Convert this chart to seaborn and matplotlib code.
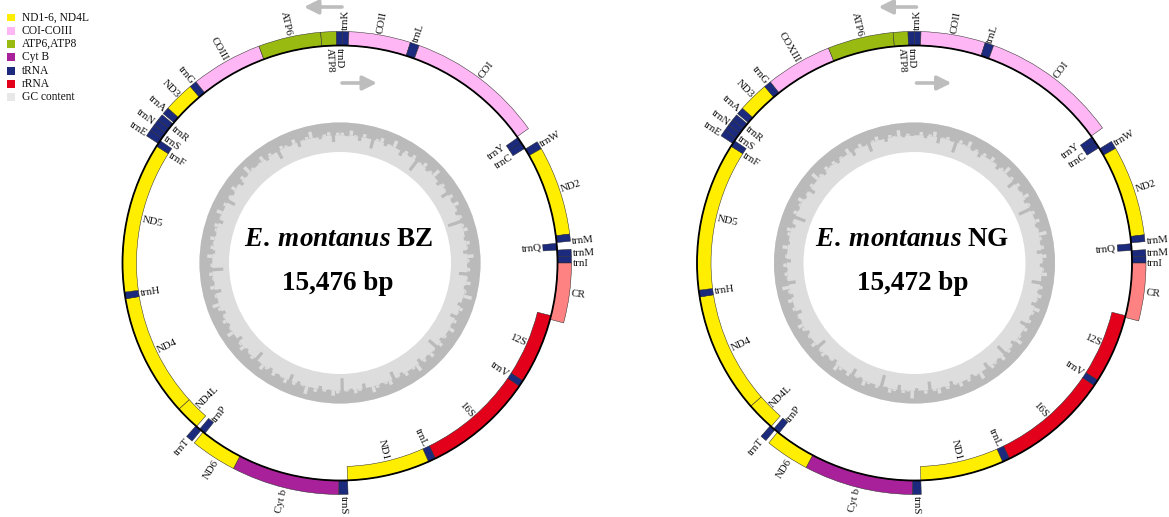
import numpy as np
import matplotlib
matplotlib.use("Agg")
import matplotlib.pyplot as plt
from matplotlib.patches import Wedge, Circle, Rectangle
import seaborn as sns

# ---------------------------------------------------------------- data
GENOME_LEN_BZ = 15476
GENOME_LEN_NG = 15472

gene_names_bz = ["trnK", "COII", "trnL", "COI", "trnY", "trnC", "trnW", "ND2",
                 "trnM", "trnQ", "trnM", "trnI", "CR", "12S", "trnV", "16S",
                 "trnL", "ND1", "trnS", "Cyt b", "ND6", "trnP", "trnT", "ND4L",
                 "ND4", "trnH", "ND5", "trnF", "trnE", "trnS", "trnN", "trnR",
                 "trnA", "ND3", "trnG", "COIII", "ATP6", "ATP8", "trnD"]
gene_names_ng = gene_names_bz[:35] + ["COXIII"] + gene_names_bz[36:]

# '+' drawn outside the ring, '-' drawn inside
gene_strand = ["+", "+", "+", "+", "-", "-", "+", "+",
               "+", "-", "+", "+", "+", "-", "-", "-",
               "-", "-", "+", "+", "+", "-", "+", "-",
               "-", "-", "-", "-", "+", "+", "+", "+",
               "+", "+", "+", "+", "+", "+", "+"]
gene_class = ["trn", "cox", "trn", "cox", "trn", "trn", "trn", "nad",
              "trn", "trn", "trn", "trn", "cr", "rrn", "trn", "rrn",
              "trn", "nad", "trn", "cob", "nad", "trn", "trn", "nad",
              "nad", "trn", "nad", "trn", "trn", "trn", "trn", "trn",
              "trn", "nad", "trn", "cox", "atp", "atp", "trn"]

gene_start_bz = [30, 95, 761, 860, 2356, 2425, 2511, 2597,
                 3560, 3646, 3723, 3796, 3869, 4471, 5279, 5352,
                 6620, 6706, 7652, 7751, 8916, 9389, 9445, 9513,
                 9793, 11199, 11276, 13004, 13039, 13112, 13181, 13249,
                 13335, 13413, 13744, 13822, 14595, 15270, 15438]
gene_end_bz = [95, 761, 860, 2343, 2433, 2502, 2597, 3560,
               3637, 3723, 3796, 3869, 4514, 5279, 5352, 6620,
               6706, 7652, 7751, 8916, 9415, 9466, 9522, 9793,
               11199, 11276, 13004, 13078, 13112, 13181, 13249, 13318,
               13413, 13744, 13822, 14595, 15270, 15438, 30]

gene_start_ng = [0, 69, 765, 860, 2347, 2416, 2506, 2592,
                 3567, 3649, 3726, 3795, 3868, 4470, 5270, 5343,
                 6623, 6709, 7664, 7759, 8936, 9392, 9452, 9509,
                 9836, 11218, 11295, 13000, 13036, 13108, 13177, 13245,
                 13330, 13408, 13739, 13817, 14535, 15244, 15403]
gene_end_ng = [69, 765, 860, 2334, 2424, 2493, 2592, 3567,
               3640, 3726, 3795, 3868, 4491, 5270, 5343, 6623,
               6709, 7664, 7759, 8936, 9412, 9469, 9521, 9836,
               11218, 11295, 13000, 13074, 13108, 13177, 13245, 13314,
               13408, 13739, 13817, 14535, 15244, 15403, 15472]

# GC content (%) in 2-degree windows, clockwise from the top
gc_bz = [27, 31, 24, 29, 35, 26, 30, 41, 28, 25, 33, 29, 22, 30, 36, 27, 31, 26, 44, 29,
         25, 32, 28, 21, 30, 34, 27, 29, 38, 26, 31, 24, 29, 33, 27, 46, 28, 25, 30, 32,
         26, 29, 35, 23, 28, 31, 27, 40, 29, 25, 32, 28, 20, 30, 34, 26, 29, 37, 27, 31,
         24, 30, 28, 33, 26, 42, 29, 25, 31, 27, 35, 22, 28, 30, 26, 33, 29, 39, 25, 28,
         31, 27, 23, 30, 36, 28, 26, 32, 29, 45, 27, 24, 31, 28, 34, 26, 30, 21, 29, 33,
         27, 38, 25, 29, 31, 26, 33, 28, 24, 30, 41, 27, 29, 32, 25, 28, 36, 30, 23, 29,
         32, 26, 29, 34, 27, 22, 30, 28, 37, 25, 31, 29, 26, 43, 28, 30, 24, 33, 27, 29,
         25, 31, 28, 26, 35, 29, 23, 30, 27, 39, 28, 32, 25, 29, 34, 26, 31, 21, 28, 30,
         29, 24, 33, 27, 30, 40, 26, 28, 31, 25, 36, 29, 27, 22, 30, 33, 28, 26, 38, 27]
gc_ng = [30, 26, 33, 28, 24, 37, 29, 27, 31, 43, 26, 29, 23, 32, 28, 35, 27, 30, 25, 29,
         34, 28, 22, 30, 27, 39, 26, 31, 29, 24, 33, 28, 45, 27, 30, 25, 32, 29, 21, 28,
         31, 27, 36, 25, 29, 33, 28, 24, 30, 41, 27, 32, 26, 29, 35, 23, 28, 31, 27, 38,
         26, 30, 28, 23, 34, 29, 27, 42, 25, 31, 28, 26, 37, 30, 22, 29, 33, 27, 30, 25,
         29, 35, 27, 31, 24, 28, 40, 26, 30, 33, 21, 29, 27, 36, 28, 25, 31, 44, 27, 30,
         28, 24, 32, 29, 38, 26, 30, 27, 23, 34, 29, 31, 26, 28, 41, 25, 30, 28, 33, 27,
         24, 31, 29, 36, 27, 30, 25, 33, 28, 22, 39, 29, 27, 31, 26, 35, 28, 30, 24, 32,
         30, 27, 25, 34, 29, 43, 26, 31, 28, 24, 32, 29, 37, 27, 30, 21, 28, 33, 26, 29,
         27, 33, 28, 30, 24, 36, 29, 26, 31, 40, 28, 25, 30, 34, 27, 29, 23, 32, 28, 31]

legend_labels = ["ND1-6, ND4L", "COI-COIII", "ATP6,ATP8", "Cyt B", "tRNA", "rRNA", "GC content"]
legend_classes = ["nad", "cox", "atp", "cob", "trn", "rrn", "gc"]

# ---------------------------------------------------------------- style
sns.set_theme(style="white")
plt.rcParams["font.family"] = ["Liberation Serif", "DejaVu Serif"]
plt.rcParams["mathtext.fontset"] = "custom"
plt.rcParams["mathtext.it"] = "Liberation Serif:italic:bold"
plt.rcParams["mathtext.rm"] = "Liberation Serif:bold"

class_colors = dict(zip(
    ["nad", "cox", "atp", "cob", "trn", "rrn", "cr", "gc"],
    sns.color_palette(["#FFEE00", "#FFB6F4", "#99BB11", "#A8219A",
                       "#1B2A7C", "#E2001A", "#FF8282", "#E6E6E6"])))
GC_DARK, GC_LIGHT = "#BABABA", "#DDDDDD"

W, H = 1169, 517
fig = plt.figure(figsize=(W / 100, H / 100), dpi=100)
ax = fig.add_axes([0, 0, 1, 1])
ax.set_xlim(0, W)
ax.set_ylim(0, H)
ax.axis("off")

RING_R = 217.5     # backbone circle
THICK = 14.0       # gene block thickness
LABEL_GAP = 1.3
GC_OUT, GC_IN = 140.5, 111.0
GC_MIN, GC_MAX = 15.0, 50.0   # radial scale of the GC track
GC_BASELINE = 30.0            # level of the solid outer band

LABEL_INSIDE = {29, 31, 37, 38}          # outer genes whose labels sit inside
LABEL_SHIFT = {4: -1.1, 5: 0.9, 8: 0.9, 10: 0.25, 11: 1.05, 20: -1.2,
               21: -0.8, 27: -1.05, 28: -0.75, 29: -0.4, 30: -0.6, 31: -0.1}


def pos(cx, cy, r, theta):
    t = np.deg2rad(theta)
    return cx + r * np.sin(t), cy + r * np.cos(t)


def gc_depth(v):
    return (GC_OUT - GC_IN) * (v - GC_MIN) / (GC_MAX - GC_MIN)


def draw_map(cx, cy, names, starts, ends, length, gc, title, size_text):
    # GC content ring: light base, solid band at the baseline level,
    # then each window as a streak deeper (dark) or shallower (light)
    span = GC_OUT - GC_IN
    d_base = gc_depth(GC_BASELINE)
    ax.add_patch(Wedge((cx, cy), GC_OUT, 0, 360, width=span,
                       facecolor=GC_LIGHT, edgecolor="none", zorder=1))
    ax.add_patch(Wedge((cx, cy), GC_OUT, 0, 360, width=d_base,
                       facecolor=GC_DARK, edgecolor="none", zorder=1))
    step = 360.0 / len(gc)
    for i, v in enumerate(gc):
        d_val = gc_depth(v)
        c = i * step + step / 2
        t0, t1 = c - step * 0.38, c + step * 0.38
        if v >= GC_BASELINE:
            ax.add_patch(Wedge((cx, cy), GC_OUT - d_base + 0.5, 90 - t1, 90 - t0,
                               width=d_val - d_base + 0.5, facecolor=GC_DARK,
                               edgecolor="none", zorder=2))
        else:
            ax.add_patch(Wedge((cx, cy), GC_OUT - d_val, 90 - t1, 90 - t0,
                               width=d_base - d_val, facecolor=GC_LIGHT,
                               edgecolor="none", zorder=2))

    # gene blocks
    for i, (nm, s, e) in enumerate(zip(names, starts, ends)):
        if e < s:
            e += length
        t0, t1 = 360.0 * s / length, 360.0 * e / length
        r_out = RING_R + THICK if gene_strand[i] == "+" else RING_R
        ax.add_patch(Wedge((cx, cy), r_out, 90 - t1, 90 - t0, width=THICK,
                           facecolor=class_colors[gene_class[i]],
                           edgecolor="#2a2a2a", lw=0.35, zorder=3))

        mid = (t0 + t1) / 2 + LABEL_SHIFT.get(i, 0.0)
        inside = gene_strand[i] == "-" or i in LABEL_INSIDE
        if inside:
            r_lab = RING_R - 2.0 if gene_strand[i] == "+" else RING_R - THICK - LABEL_GAP
        else:
            r_lab = RING_R + THICK + LABEL_GAP
        m = mid % 360
        right_half = 0 < m < 180
        rot = 90 - m if right_half else 270 - m
        if right_half:
            ha = "right" if inside else "left"
        else:
            ha = "left" if inside else "right"
        x, y = pos(cx, cy, r_lab, m)
        ax.text(x, y, nm, rotation=rot, rotation_mode="anchor", ha=ha,
                va="center", fontsize=7.8, color="#111111", zorder=6)

    # backbone
    ax.add_patch(Circle((cx, cy), RING_R, fill=False, lw=1.3,
                        edgecolor="black", zorder=5))

    # strand direction arrows
    arrow = dict(arrowstyle="-|>,head_length=0.7,head_width=0.35",
                 color="#BDBDBD", lw=2.6, shrinkA=0, shrinkB=0)
    ax.annotate("", xy=(cx - 36, H - 7), xytext=(cx + 2, H - 7), arrowprops=arrow)
    ax.annotate("", xy=(cx + 37, H - 83), xytext=(cx + 2, H - 83), arrowprops=arrow)

    # centre titles
    ax.text(cx - 2, cy + 24, title, ha="center", va="center",
            fontsize=19.5, fontweight="bold", color="black", zorder=7)
    ax.text(cx - 2, cy - 20, size_text, ha="center", va="center",
            fontsize=19.5, fontweight="bold", color="black", zorder=7)


draw_map(340, H - 263, gene_names_bz, gene_start_bz, gene_end_bz,
         GENOME_LEN_BZ, gc_bz, r"$\mathit{E.\:montanus}$ BZ", "15,476 bp")
draw_map(914.5, H - 263, gene_names_ng, gene_start_ng, gene_end_ng,
         GENOME_LEN_NG, gc_ng, r"$\mathit{E.\:montanus}$ NG", "15,472 bp")

# legend
for k, (lab, cls) in enumerate(zip(legend_labels, legend_classes)):
    yc = H - (17.5 + 13.3 * k)
    col = class_colors[cls] if cls != "gc" else "#E8E8E8"
    ax.add_patch(Rectangle((7.3, yc - 3.9), 7.8, 7.8, facecolor=col,
                           edgecolor="none", zorder=6))
    ax.text(21.5, yc, lab, ha="left", va="center", fontsize=8.3,
            color="#111111", zorder=6)

fig.savefig("out.png", dpi=100)
